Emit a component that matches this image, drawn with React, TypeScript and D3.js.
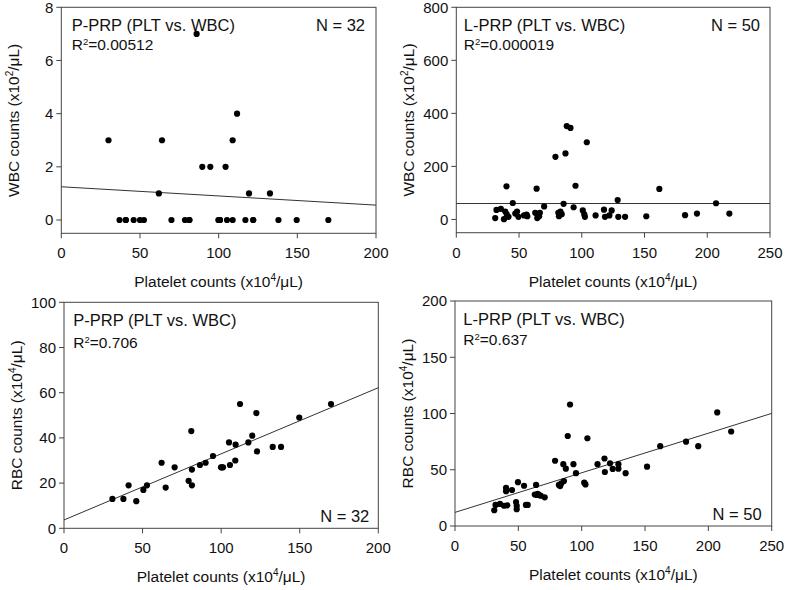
import React from "react";
import * as d3 from "d3";

// ---------- DATA ----------
// Panel A: P-PRP, platelet vs WBC
const pprpWbcX = [30, 37, 41, 46, 50, 52.5, 62, 64, 70, 78.6, 81.4, 86, 89.6, 94.7, 99.8, 100.8, 104.4, 105.3, 108.9, 108.9, 111.7, 117, 119.3, 122, 132.6, 138, 149.6, 169.7, 81.4, 100.8, 122, 41];
const pprpWbcY = [3, 0, 0, 0, 0, 0, 1, 3, 0, 0, 0, 7, 2, 2, 0, 0, 2, 0, 3, 0, 4, 0, 1, 0, 1, 0, 0, 0, 0, 0, 0, 0];
const pprpWbcFit = [1.25, 0.56]; // y at x-domain start / end

// Panel B: L-PRP, platelet vs WBC
const lprpWbcX = [88, 91, 104, 79, 87, 40, 64, 95, 45, 85.5, 70, 93.5, 32, 35.5, 31, 38, 40.3, 41.6, 48.4, 49.5, 54, 56.6, 62.9, 64.5, 66.6, 81.3, 81.8, 83, 100.8, 102, 111, 117.7, 118.5, 122, 123.8, 128.6, 129.1, 134.5, 151.4, 161.8, 182.3, 191.8, 207, 217.6, 47, 56, 66, 84, 39, 102.5];
const lprpWbcY = [352, 345, 291, 236, 249, 125, 116, 127, 62, 59, 49, 46, 36, 40, 5, 1, 19, 10, 30, 10, 15, 12, 25, 5, 25, 25, 12, 30, 34, 19, 15, 37, 10, 15, 34, 73, 10, 10, 12, 115, 16, 22, 61, 22, 22, 18, 12, 20, 30, 10];
const lprpWbcFit = [60, 60];

// Panel C: P-PRP, platelet vs RBC
const pprpRbcX = [30.8, 37.8, 41.1, 46, 50.5, 52.8, 62.1, 64.7, 70.4, 79.3, 81, 81.4, 81.4, 86.5, 90.1, 94.8, 99.9, 101.2, 105, 105.6, 109.2, 109, 112, 117.3, 119.8, 122.4, 122.8, 132.8, 138.1, 149.7, 169.9, 100.5];
const pprpRbcY = [13, 13, 19, 12, 17, 19, 29, 18, 27, 21, 43, 26, 19, 28, 29, 32, 27, 27, 38, 28, 37, 30, 55, 38, 41, 51, 34, 36, 36, 49, 55, 27];
const pprpRbcFit = [3.7, 62.2];

// Panel D: L-PRP, platelet vs RBC
const lprpRbcX = [90.8, 89, 104.5, 79, 85.5, 93.5, 87.5, 95.5, 86, 84, 82, 83, 102, 103, 112.5, 118, 118.3, 122.4, 124.5, 129, 129, 134.7, 151.6, 162, 182.4, 192, 207, 218, 64, 54.5, 49.7, 45, 40.3, 40.3, 63, 64.5, 66, 67.6, 70.8, 56, 57.4, 48.2, 48.7, 48.7, 31, 32, 35.5, 38.7, 41.3, 65.3];
const lprpRbcY = [108, 80, 78, 58, 55, 55, 51, 47, 40, 38, 36.5, 35.5, 38.5, 37, 55, 60, 48, 55.7, 50.7, 55, 51, 47, 52.7, 71, 75, 71, 101, 84, 36.5, 35.8, 39, 32, 34, 31, 28, 27.6, 27.6, 27, 25.5, 18.7, 18.7, 21.3, 18, 15, 14, 18.7, 19.6, 18, 18.4, 28.5];
const lprpRbcFit = [12.1, 100.1];

// Text / ticks
const xTicks200 = [0, 50, 100, 150, 200];
const xTicks250 = [0, 50, 100, 150, 200, 250];
const yTicksA = [0, 2, 4, 6, 8];
const yTicksB = [0, 200, 400, 600, 800];
const yTicksC = [0, 20, 40, 60, 80, 100];
const yTicksD = [0, 50, 100, 150, 200];
const titles = ["P-PRP (PLT vs. WBC)", "L-PRP (PLT vs. WBC)", "P-PRP (PLT vs. WBC)", "L-PRP (PLT vs. WBC)"];
const r2Values = ["0.00512", "0.000019", "0.706", "0.637"];
const nLabels = ["N = 32", "N = 50", "N = 32", "N = 50"];

const FONT = "'Liberation Sans', Arial, sans-serif";

type PanelProps = {
  box: { x0: number; x1: number; y0: number; y1: number };
  xDomain: [number, number];
  yDomain: [number, number];
  xTicks: number[];
  yTicks: number[];
  xs: number[];
  ys: number[];
  fit: number[];
  title: string;
  r2: string;
  n: string;
  yLabelMain: string;
  yExp: string;
  titlePos: [number, number];
  r2Pos: [number, number];
  nPos: [number, number];
};

function Panel(p: PanelProps) {
  const { box } = p;
  const x = d3.scaleLinear().domain(p.xDomain).range([box.x0, box.x1]);
  const y = d3.scaleLinear().domain(p.yDomain).range([box.y1, box.y0]);
  const line = d3
    .line<[number, number]>()
    .x((d) => x(d[0]))
    .y((d) => y(d[1]));
  const fitPts: [number, number][] = [
    [p.xDomain[0], p.fit[0]],
    [p.xDomain[1], p.fit[1]],
  ];
  const axisColor = "#444";
  const cy = (box.y0 + box.y1) / 2;
  const cx = (box.x0 + box.x1) / 2;
  return (
    <g fontFamily={FONT} fill="#111">
      <rect x={box.x0} y={box.y0} width={box.x1 - box.x0} height={box.y1 - box.y0} fill="none" stroke={axisColor} strokeWidth={1} />
      {p.xTicks.map((t) => (
        <g key={"xt" + t}>
          <line x1={x(t)} x2={x(t)} y1={box.y1} y2={box.y1 + 5} stroke={axisColor} />
          <text x={x(t)} y={box.y1 + 25} textAnchor="middle" fontSize={15}>
            {t}
          </text>
        </g>
      ))}
      {p.yTicks.map((t) => (
        <g key={"yt" + t}>
          <line x1={box.x0 - 5} x2={box.x0} y1={y(t)} y2={y(t)} stroke={axisColor} />
          <text x={box.x0 - 8} y={y(t)} dy="0.35em" textAnchor="end" fontSize={15}>
            {t}
          </text>
        </g>
      ))}
      <path d={line(fitPts) || ""} fill="none" stroke="#333" strokeWidth={1} />
      {p.xs.map((v, i) => (
        <circle key={i} cx={x(v)} cy={y(p.ys[i])} r={3.1} fill="#000" />
      ))}
      <text x={p.titlePos[0]} y={p.titlePos[1]} fontSize={16.5}>
        {p.title}
      </text>
      <text x={p.r2Pos[0]} y={p.r2Pos[1]} fontSize={15.5}>
        R<tspan dy={-5} fontSize={9.5}>2</tspan>
        <tspan dy={5}>={p.r2}</tspan>
      </text>
      <text x={p.nPos[0]} y={p.nPos[1]} fontSize={16.5} textAnchor="end">
        {p.n}
      </text>
      <text x={cx} y={box.y1 + 54} textAnchor="middle" fontSize={15.5}>
        Platelet counts (x10<tspan dy={-6} fontSize={10}>4</tspan>
        <tspan dy={6}>/μL)</tspan>
      </text>
      <text transform={`translate(${box.x0 - 42},${cy}) rotate(-90)`} textAnchor="middle" fontSize={15.5}>
        {p.yLabelMain} (x10<tspan dy={-6} fontSize={10}>{p.yExp}</tspan>
        <tspan dy={6}>/μL)</tspan>
      </text>
    </g>
  );
}

export default function App() {
  const bA = { x0: 61.3, x1: 376, y0: 7.3, y1: 233.3 };
  const bB = { x0: 456.3, x1: 770, y0: 7.3, y1: 232.7 };
  const bC = { x0: 64, x1: 378.3, y0: 302.3, y1: 528.3 };
  const bD = { x0: 455, x1: 771.7, y0: 301, y1: 526 };
  return (
    <svg width={787} height={590} style={{ position: "absolute", left: 0, top: 0, background: "#fff" }}>
      <rect width={787} height={590} fill="#fff" />
      <Panel
        box={bA}
        xDomain={[0, 200]}
        yDomain={[-0.5, 8]}
        xTicks={xTicks200}
        yTicks={yTicksA}
        xs={pprpWbcX}
        ys={pprpWbcY}
        fit={pprpWbcFit}
        title={titles[0]}
        r2={r2Values[0]}
        n={nLabels[0]}
        yLabelMain="WBC counts"
        yExp="2"
        titlePos={[bA.x0 + 10.4, bA.y0 + 23.2]}
        r2Pos={[bA.x0 + 10.4, bA.y0 + 42.2]}
        nPos={[bA.x1 - 11, bA.y0 + 23.2]}
      />
      <Panel
        box={bB}
        xDomain={[0, 250]}
        yDomain={[-50, 800]}
        xTicks={xTicks250}
        yTicks={yTicksB}
        xs={lprpWbcX}
        ys={lprpWbcY}
        fit={lprpWbcFit}
        title={titles[1]}
        r2={r2Values[1]}
        n={nLabels[1]}
        yLabelMain="WBC counts"
        yExp="2"
        titlePos={[bB.x0 + 7.5, bB.y0 + 23.2]}
        r2Pos={[bB.x0 + 7.5, bB.y0 + 42.7]}
        nPos={[bB.x1 - 10, bB.y0 + 23.2]}
      />
      <Panel
        box={bC}
        xDomain={[0, 200]}
        yDomain={[0, 100]}
        xTicks={xTicks200}
        yTicks={yTicksC}
        xs={pprpRbcX}
        ys={pprpRbcY}
        fit={pprpRbcFit}
        title={titles[2]}
        r2={r2Values[2]}
        n={nLabels[2]}
        yLabelMain="RBC counts"
        yExp="4"
        titlePos={[bC.x0 + 9.3, bC.y0 + 23.4]}
        r2Pos={[bC.x0 + 9.3, bC.y0 + 45.4]}
        nPos={[bC.x1 - 9, bC.y1 - 6.6]}
      />
      <Panel
        box={bD}
        xDomain={[0, 250]}
        yDomain={[0, 200]}
        xTicks={xTicks250}
        yTicks={yTicksD}
        xs={lprpRbcX}
        ys={lprpRbcY}
        fit={lprpRbcFit}
        title={titles[3]}
        r2={r2Values[3]}
        n={nLabels[3]}
        yLabelMain="RBC counts"
        yExp="4"
        titlePos={[bD.x0 + 8.3, bD.y0 + 24]}
        r2Pos={[bD.x0 + 8.3, bD.y0 + 44]}
        nPos={[bD.x1 - 10, bD.y1 - 6]}
      />
    </svg>
  );
}
